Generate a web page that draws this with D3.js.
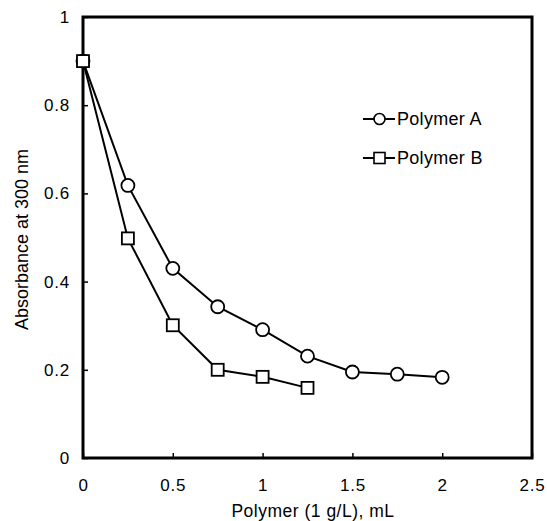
<!DOCTYPE html>
<html>
<head>
<meta charset="utf-8">
<script src="https://cdn.jsdelivr.net/npm/d3@7"></script>
<style>
  html, body { margin: 0; padding: 0; background: #fff; }
  text { font-family: "Liberation Sans", Arial, Helvetica, sans-serif; fill: #000; }
</style>
</head>
<body>
<svg id="chart" width="547" height="521"></svg>
<script>
// ---- data ----
const xValuesA = [0, 0.25, 0.5, 0.75, 1.0, 1.25, 1.5, 1.75, 2.0];
const polymerA = [0.90, 0.618, 0.43, 0.343, 0.291, 0.231, 0.195, 0.19, 0.183];
const xValuesB = [0, 0.25, 0.5, 0.75, 1.0, 1.25];
const polymerB = [0.90, 0.498, 0.301, 0.20, 0.184, 0.159];
const xTicks = [0, 0.5, 1, 1.5, 2, 2.5];
const yTicks = [0, 0.2, 0.4, 0.6, 0.8, 1];
const seriesNames = ["Polymer A", "Polymer B"];
const xTitle = "Polymer (1 g/L), mL";
const yTitle = "Absorbance at 300 nm";

// ---- layout ----
const svg = d3.select("#chart");
const mLeft = 83, mRight = 532, mTop = 17, mBottom = 458;

const x = d3.scaleLinear().domain([0, 2.5]).range([mLeft, mRight]);
const y = d3.scaleLinear().domain([0, 1]).range([mBottom, mTop]);

// frame
svg.append("rect")
  .attr("x", mLeft).attr("y", mTop)
  .attr("width", mRight - mLeft).attr("height", mBottom - mTop)
  .attr("fill", "none").attr("stroke", "#000").attr("stroke-width", 3);

// x axis (ticks inward)
const xAxis = svg.append("g").attr("transform", `translate(0,${mBottom})`)
  .call(d3.axisBottom(x).tickValues(xTicks).tickSizeInner(-5).tickSizeOuter(0)
    .tickFormat(d => d3.format("")(d)));
xAxis.select(".domain").remove();
xAxis.selectAll(".tick line").attr("stroke", "#000").attr("stroke-width", 1.5);
xAxis.selectAll(".tick text").attr("y", 28).attr("dy", "0.32em")
  .style("font-size", "17px").style("letter-spacing", "0.8px")
  .style("font-family", "Liberation Sans, Arial, sans-serif");

// y axis (ticks inward)
const yAxis = svg.append("g").attr("transform", `translate(${mLeft},0)`)
  .call(d3.axisLeft(y).tickValues(yTicks).tickSizeInner(-5).tickSizeOuter(0)
    .tickFormat(d => d3.format("")(d)));
yAxis.select(".domain").remove();
yAxis.selectAll(".tick line").attr("stroke", "#000").attr("stroke-width", 1.5);
yAxis.selectAll(".tick text").attr("x", -13)
  .style("font-size", "17px").style("letter-spacing", "0.8px")
  .style("font-family", "Liberation Sans, Arial, sans-serif");

// axis titles
svg.append("text")
  .attr("x", 313).attr("y", 517)
  .attr("text-anchor", "middle").style("font-size", "17.5px").style("letter-spacing", "0.5px")
  .text(xTitle);
svg.append("text")
  .attr("transform", `translate(28,${(mTop + mBottom) / 2 + 2}) rotate(-90)`)
  .attr("text-anchor", "middle").style("font-size", "18px")
  .text(yTitle);

// lines
const line = d3.line().x(d => x(d[0])).y(d => y(d[1]));
const dataA = xValuesA.map((v, i) => [v, polymerA[i]]);
const dataB = xValuesB.map((v, i) => [v, polymerB[i]]);

svg.append("path").datum(dataA).attr("d", line)
  .attr("fill", "none").attr("stroke", "#000").attr("stroke-width", 2);
svg.append("path").datum(dataB).attr("d", line)
  .attr("fill", "none").attr("stroke", "#000").attr("stroke-width", 2);

// markers
svg.append("g").selectAll("circle").data(dataA).join("circle")
  .attr("cx", d => x(d[0])).attr("cy", d => y(d[1])).attr("r", 6.5)
  .attr("fill", "#fff").attr("stroke", "#000").attr("stroke-width", 1.8);
const sq = 12;
svg.append("g").selectAll("rect").data(dataB).join("rect")
  .attr("x", d => x(d[0]) - sq / 2).attr("y", d => y(d[1]) - sq / 2)
  .attr("width", sq).attr("height", sq)
  .attr("fill", "#fff").attr("stroke", "#000").attr("stroke-width", 1.8);

// legend
const legendY = [119, 158];
const lg = svg.append("g");
seriesNames.forEach((name, i) => {
  const ly = legendY[i];
  lg.append("line").attr("x1", 363).attr("x2", 395).attr("y1", ly).attr("y2", ly)
    .attr("stroke", "#000").attr("stroke-width", 2);
  if (i === 0) {
    lg.append("circle").attr("cx", 379.5).attr("cy", ly).attr("r", 5.5)
      .attr("fill", "#fff").attr("stroke", "#000").attr("stroke-width", 1.6);
  } else {
    lg.append("rect").attr("x", 374).attr("y", ly - 5.5).attr("width", 11).attr("height", 11)
      .attr("fill", "#fff").attr("stroke", "#000").attr("stroke-width", 1.6);
  }
  lg.append("text").attr("x", 397).attr("y", ly).attr("dy", "0.35em")
    .style("font-size", "18px").style("letter-spacing", "0.3px").text(name);
});
</script>
</body>
</html>
